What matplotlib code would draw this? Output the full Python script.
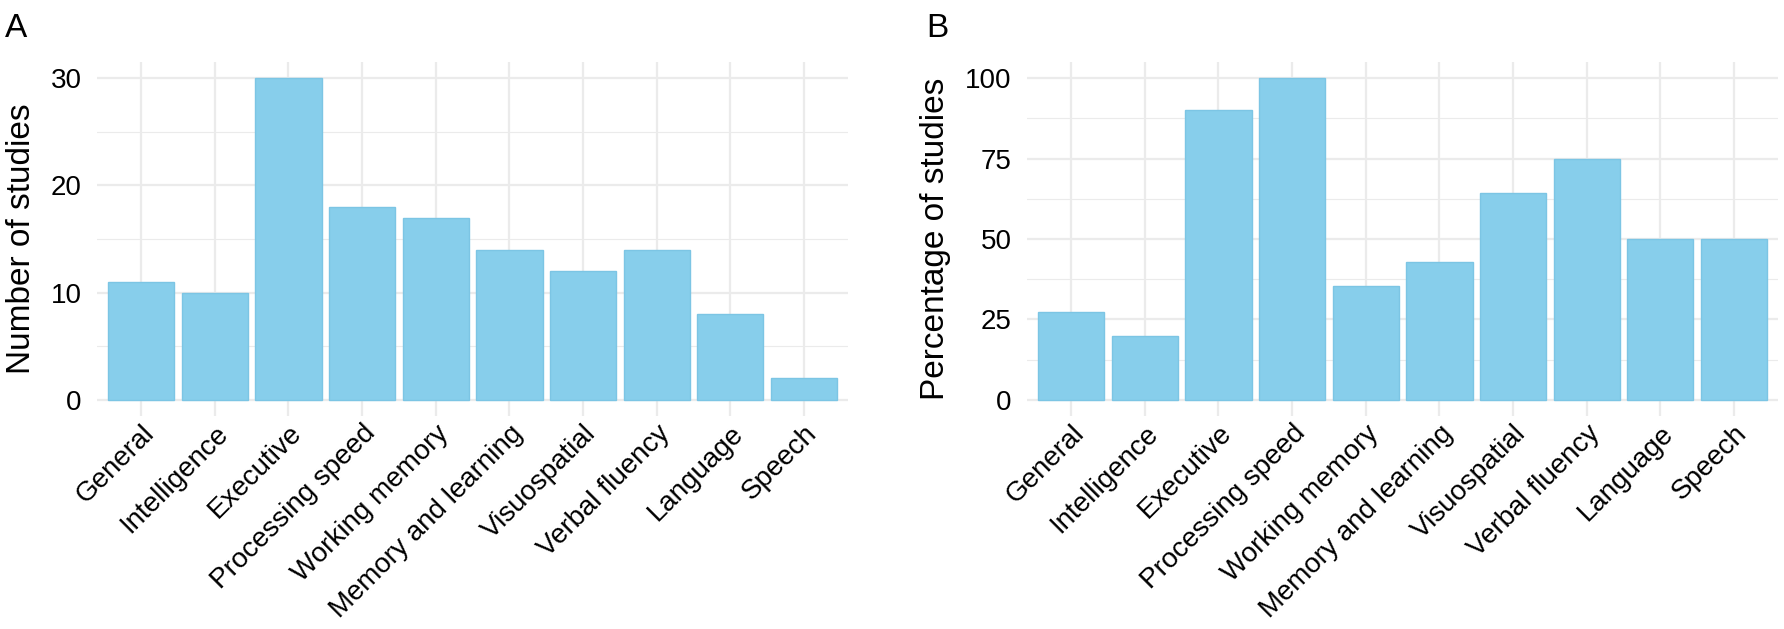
import matplotlib
matplotlib.use('Agg')
import matplotlib.pyplot as plt
import numpy as np

plt.rcParams['font.family'] = ['Liberation Sans', 'DejaVu Sans']

domains = ['General', 'Intelligence', 'Executive', 'Processing speed', 'Working memory',
           'Memory and learning', 'Visuospatial', 'Verbal fluency', 'Language', 'Speech']
n_studies = [11, 10, 30, 18, 17, 14, 12, 14, 8, 2]
pct_studies = [27.3, 20.0, 90.0, 100.0, 35.3, 42.9, 64.3, 75.0, 50.0, 50.0]

bar_col = '#87CEEB'
edge_col = '#7CC5E4'
grid_col = '#EBEBEB'


#...!...!....................
def draw_panel(ax, vals, ymax, major, ylab):
    x = np.arange(len(vals))
    ax.bar(x, vals, width=0.9, color=bar_col, edgecolor=edge_col, linewidth=1.0, zorder=3)
    ax.set_xlim(-0.6, len(vals) - 0.4)
    ax.set_ylim(-0.05 * ymax, 1.05 * ymax)
    ax.set_yticks(major)
    ax.set_yticks([m + (major[1] - major[0]) / 2 for m in major[:-1]], minor=True)
    ax.set_xticks(x)
    ax.set_xticklabels(domains, rotation=45, ha='right', va='top', rotation_mode='anchor',
                       fontsize=20)
    ax.tick_params(axis='both', which='both', length=0)
    ax.tick_params(axis='x', pad=3)
    ax.tick_params(axis='y', labelsize=20, pad=11)
    ax.grid(True, which='major', color=grid_col, linewidth=1.6, zorder=0)
    ax.grid(True, which='minor', axis='y', color=grid_col, linewidth=0.8, zorder=0)
    for s in ax.spines.values():
        s.set_visible(False)
    ax.set_ylabel(ylab, fontsize=24, labelpad=10)
    ax.set_axisbelow(True)


fig = plt.figure(figsize=(17.84, 6.29), dpi=100)
axA = fig.add_axes([0.0544, 0.3386, 0.421, 0.5628])
axB = fig.add_axes([0.5757, 0.3386, 0.421, 0.5628])

draw_panel(axA, n_studies, 30, [0, 10, 20, 30], 'Number of studies')
draw_panel(axB, pct_studies, 100, [0, 25, 50, 75, 100], 'Percentage of studies')

fig.text(0.003, 0.98, 'A', fontsize=24, ha='left', va='top')
fig.text(0.519, 0.98, 'B', fontsize=24, ha='left', va='top')

fig.savefig('out.png', dpi=100)
print('M: saved out.png')
